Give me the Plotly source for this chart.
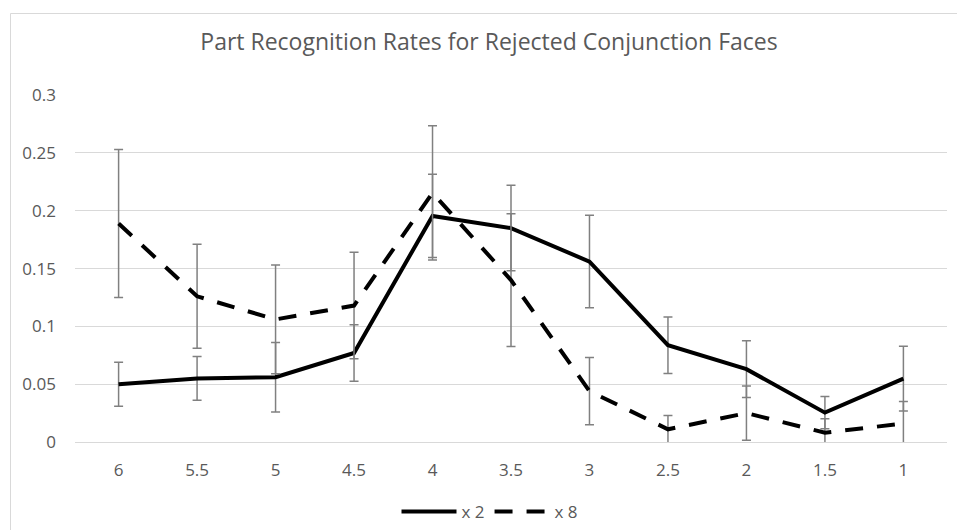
import plotly.graph_objects as go

categories = ["6", "5.5", "5", "4.5", "4", "3.5", "3", "2.5", "2", "1.5", "1"]
x2_values = [0.050, 0.055, 0.056, 0.077, 0.1955, 0.185, 0.156, 0.0837, 0.063, 0.0254, 0.0548]
x2_errors = [0.019, 0.019, 0.030, 0.0245, 0.036, 0.037, 0.040, 0.0245, 0.0245, 0.014, 0.028]
x8_values = [0.189, 0.126, 0.106, 0.118, 0.2155, 0.140, 0.044, 0.011, 0.025, 0.008, 0.016]
x8_errors = [0.064, 0.045, 0.047, 0.046, 0.058, 0.0575, 0.029, 0.012, 0.0235, 0.012, 0.019]
y_ticks = [0, 0.05, 0.1, 0.15, 0.2, 0.25, 0.3]
y_tick_labels = ["0", "0.05", "0.1", "0.15", "0.2", "0.25", "0.3"]

TEXT = "#595959"
GRID = "#d9d9d9"
ERR = "#808080"
FONT = "Open Sans"

fig = go.Figure()
fig.add_trace(go.Scatter(
    x=categories, y=x2_values, name="x 2", mode="lines",
    line=dict(color="black", width=4),
    error_y=dict(type="data", array=x2_errors, visible=True, color=ERR, thickness=1.5, width=4.5),
))
fig.add_trace(go.Scatter(
    x=categories, y=x8_values, name="x 8", mode="lines",
    line=dict(color="black", width=4, dash="18px,14px"),
    error_y=dict(type="data", array=x8_errors, visible=True, color=ERR, thickness=1.5, width=4.5),
))

W, H = 957, 530
ml, mr, mt, mb = 75, 10, 95, 88
pw, ph = W - ml - mr, H - mt - mb

def px_to_paper_x(px):
    return (px - ml) / pw

def px_to_paper_y(py):
    return (H - mb - py) / ph

fig.add_shape(type="rect", xref="paper", yref="paper",
              x0=px_to_paper_x(10.5), x1=px_to_paper_x(975),
              y0=px_to_paper_y(545), y1=px_to_paper_y(13.5),
              line=dict(color=GRID, width=1), fillcolor="rgba(0,0,0,0)", layer="below")

fig.update_layout(
    width=W, height=H,
    margin=dict(l=ml, r=mr, t=mt, b=mb),
    paper_bgcolor="white", plot_bgcolor="white",
    font=dict(family=FONT, color=TEXT, size=17),
    title=dict(text="Part Recognition Rates for Rejected Conjunction Faces",
               font=dict(family=FONT, size=23, color=TEXT),
               x=489 / W, xanchor="center", y=1 - 42 / H, yanchor="middle"),
    showlegend=True,
    legend=dict(orientation="h", x=490 / W, xref="container", xanchor="center",
                y=1 - 512 / H, yref="container", yanchor="middle",
                font=dict(family=FONT, size=17, color=TEXT), itemwidth=55,
                bgcolor="rgba(0,0,0,0)"),
    xaxis=dict(type="category", showgrid=False, zeroline=False, showline=False,
               ticks="", ticklabelstandoff=16, tickfont=dict(size=17, color=TEXT)),
    yaxis=dict(range=[0, 0.3001], tickvals=y_ticks, ticktext=y_tick_labels,
               showgrid=True, gridcolor=GRID, gridwidth=1,
               zeroline=True, zerolinecolor=GRID, zerolinewidth=1,
               showline=False, ticks="", ticklabelstandoff=18,
               tickfont=dict(size=17, color=TEXT)),
)

fig.write_html("out.html")
